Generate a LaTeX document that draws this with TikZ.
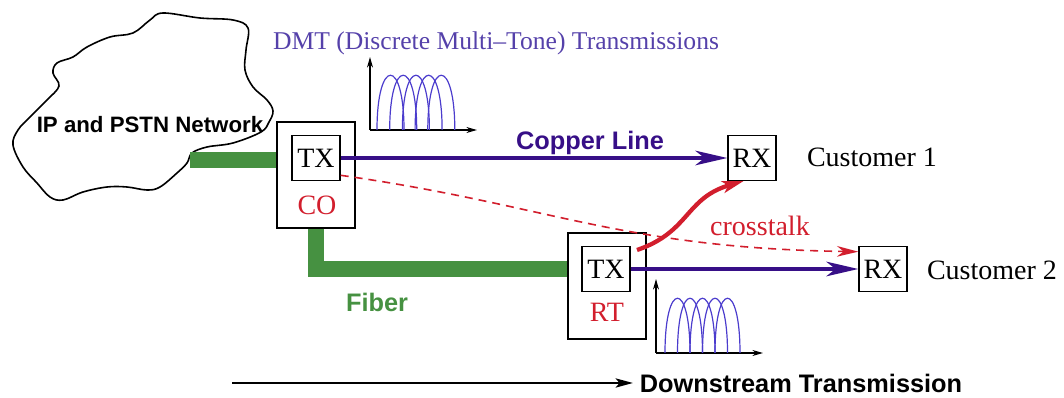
\documentclass[tikz,border=0pt]{standalone}
\usepackage{fontspec}
\setmainfont{Liberation Serif}
\setsansfont{Liberation Sans}
\usetikzlibrary{arrows.meta}
\definecolor{cuPurple}{RGB}{55,15,135}
\definecolor{dmtPurple}{RGB}{85,65,170}
\definecolor{lobeBlue}{RGB}{75,60,205}
\definecolor{xRed}{RGB}{210,30,45}
\definecolor{fGreen}{RGB}{70,145,65}
\begin{document}
\begin{tikzpicture}[x=0.75pt,y=-0.75pt,
  box/.style={draw, line width=1.1pt, inner sep=0pt, minimum width=36pt, minimum height=33.5pt, font=\fontsize{21}{21}\selectfont},
  site/.style={draw, line width=1.1pt, inner sep=0pt, minimum width=58.5pt, minimum height=79.5pt},
  fiber/.style={draw=fGreen, line width=12.5pt},
  copper/.style={draw=cuPurple, line width=2.3pt, -{Stealth[length=24pt,width=11pt,inset=7pt]}},
  leak/.style={draw=xRed, line width=1.2pt, dash pattern=on 6pt off 4.5pt, -{Stealth[length=16pt,width=8pt,inset=5pt]}},
  xtalk/.style={draw=xRed, line width=3.2pt, -{Stealth[length=16pt,width=9pt,inset=4pt]}},
  axis/.style={draw=black, line width=0.8pt, -{Stealth[length=8pt,width=4.5pt]}},
  lobe/.style={draw=lobeBlue, line width=0.9pt},
  bigsans/.style={font=\sffamily\bfseries\fontsize{19}{19}\selectfont},
  serif/.style={font=\fontsize{21}{21}\selectfont}
]
\useasboundingbox (0,0) rectangle (1064,398);

% cloud
\draw[line width=1.2pt] plot[smooth cycle, tension=0.6] coordinates {
 (163,13) (200,18) (233,20) (248,28) (246,50) (245,70) (253,87) (267,100) (273,111)
 (269,122) (261,132) (233,143) (207,147) (192,153) (187,163) (177,173) (160,187)
 (147,190) (127,187) (107,187) (83,192) (63,200) (50,197) (37,183) (23,167) (13,145)
 (18,130) (30,117) (47,100) (59,86) (53,73) (57,63) (73,57) (87,47) (110,37) (133,33) (150,20)};
\node[font=\sffamily\bfseries\fontsize{16.7}{16.7}\selectfont, inner sep=0pt] (net) at (150,125) {IP and PSTN Network};
\coordinate (cloudedge) at (190,160);

% sites
\node[site] (co) at (316,175) {};
\node[box] (tx1) at (316,158) {TX};
\node[serif, text=xRed, inner sep=0pt] (colbl) at (317,205) {CO};
\node[site] (rt) at (607,286) {};
\node[box] (tx2) at (606,269) {TX};
\node[serif, text=xRed, inner sep=0pt] (rtlbl) at (607,312) {RT};
\node[box] (rx1) at (752,158) {RX};
\node[box] (rx2) at (883,269) {RX};
\node[serif, inner sep=0pt] (c1) at (872,157) {Customer 1};
\node[serif, inner sep=0pt] (c2) at (992,270) {Customer 2};

% fiber
\draw[fiber] (cloudedge) -- (cloudedge -| co.west);
\draw[fiber] (co.south) ++(0,0) coordinate (cob) -- (cob |- tx2) -- (tx2 -| rt.west);
\node[bigsans, text=fGreen, inner sep=0pt] (fib) at (377,302) {Fiber};

% copper lines
\draw[copper] (tx1.east) -- (rx1.west);
\draw[copper] (tx2.east) -- (rx2.west);
\node[bigsans, text=cuPurple, inner sep=0pt] (cul) at (590,143) {Copper Line};

% crosstalk
\draw[leak] (tx1.-35) .. controls (550,205) and (620,248) .. (rx2.145);
\coordinate (xs) at (637,250);
\draw[xtalk] (xs) .. controls (690,232) and (685,198) .. (rx1.-110);
\node[serif, text=xRed, inner sep=0pt] (xt) at (760,226) {crosstalk};

% DMT spectrum 1
\node[font=\fontsize{19.2}{19.2}\selectfont, text=dmtPurple, inner sep=0pt] (dmt) at (496,43) {DMT (Discrete Multi--Tone) Transmissions};
\draw[axis] (370,130) -- (370,57);
\draw[axis] (370,130) -- (477,130);
\foreach \k in {0,...,4}
  \draw[lobe] ({377+12.7*\k},130) .. controls ({377+12.7*\k},57) and ({404+12.7*\k},57) .. ({404+12.7*\k},130);

% DMT spectrum 2
\draw[axis] (656,353) -- (656,279);
\draw[axis] (656,353) -- (763,353);
\foreach \k in {0,...,4}
  \draw[lobe] ({665+12.5*\k},353) .. controls ({665+12.5*\k},280) and ({690+12.5*\k},280) .. ({690+12.5*\k},353);

% downstream
\node[bigsans, inner sep=0pt] (ds) at (801,383) {Downstream Transmission};
\coordinate (dsstart) at (232,383);
\draw[line width=1.2pt, -{Stealth[length=13pt,width=7pt,inset=3pt]}] (dsstart) -- ([xshift=-5pt]ds.west);
\end{tikzpicture}
\end{document}
